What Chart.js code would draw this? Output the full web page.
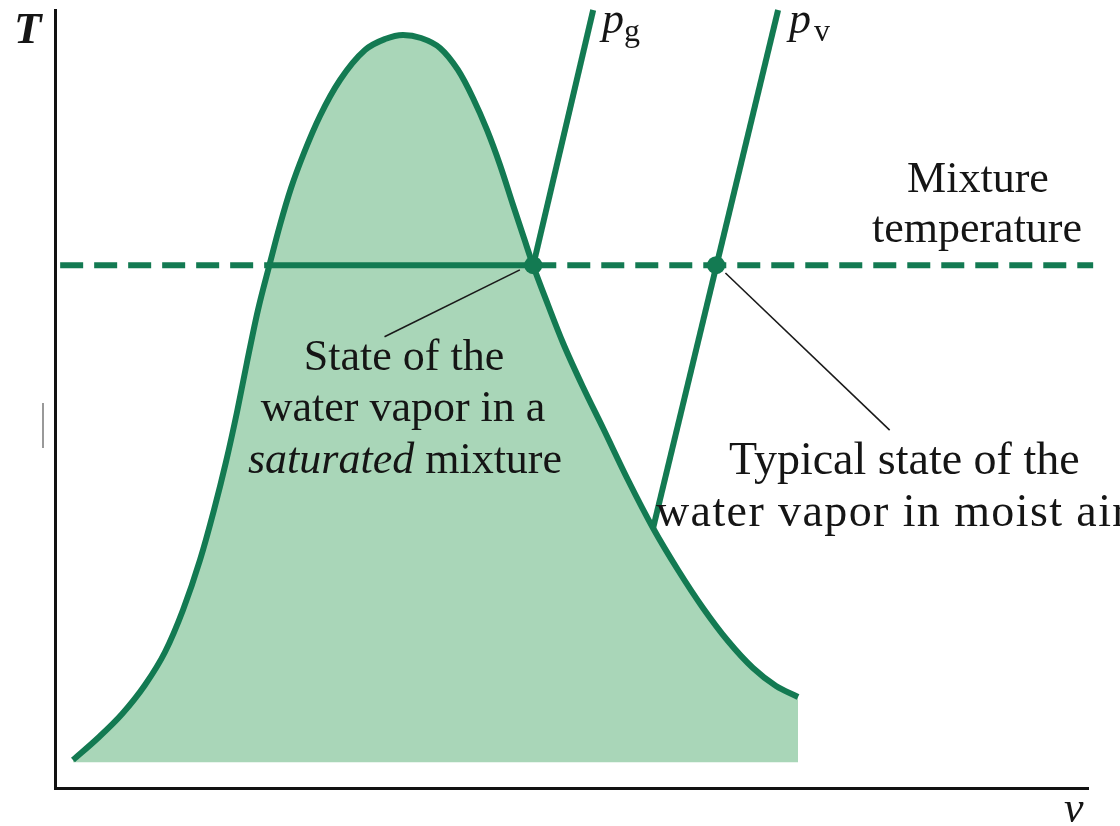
<!DOCTYPE html>
<html>
<head>
<meta charset="utf-8">
<script src="https://cdn.jsdelivr.net/npm/chart.js@4.4.1/dist/chart.umd.min.js"></script>
<style>
  body { margin: 0; background: #fff; }
  .wrap { width: 1120px; height: 826px; position: relative; }
</style>
</head>
<body>
<div class="wrap"><canvas id="chart"></canvas></div>
<script>
// saturation dome (v, T in axis units 0..100)
const domeV = [1.74, 4.16, 6.49, 8.71, 10.65, 12.39, 14.04, 15.39, 16.55, 17.62, 18.59, 19.65, 20.81, 21.78, 22.85, 24.10, 25.65, 27.59, 30.01, 31.95, 33.69, 35.43, 37.27, 39.01, 40.46, 41.82, 43.08, 44.34, 45.40, 46.27, 47.73, 49.18, 51.11, 53.05, 55.47, 57.89, 60.31, 62.73, 65.15, 67.57, 69.80, 71.93];
const domeT = [3.60, 6.43, 9.51, 13.24, 17.48, 22.88, 29.31, 35.73, 41.90, 48.33, 54.76, 61.44, 67.48, 72.37, 77.12, 81.62, 86.38, 91.00, 94.86, 96.27, 96.79, 96.40, 95.12, 92.29, 88.69, 84.58, 80.08, 74.94, 70.69, 67.22, 62.08, 57.20, 51.54, 46.27, 39.59, 33.42, 28.02, 23.14, 18.89, 15.42, 13.11, 11.70];
const domeBaseT = 3.3;

// mixture temperature line
const mixT = 67.2;
const dashLeftV = [0.5, 20.8];
const solidV = [20.8, 46.3];
const dashRightV = [46.3, 100.5];

// isobars p_g and p_v
const pgV = [46.3, 52.1];
const pgT = [67.2, 100];
const pvV = [57.9, 70.0];
const pvT = [33.4, 100];

// marked states
const stateV = [46.3, 64.0];
const stateT = [67.2, 67.2];

// leader lines to the notes
const lead1V = [45.0, 31.9];
const lead1T = [66.6, 58.0];
const lead2V = [64.9, 80.8];
const lead2T = [66.2, 46.0];

const green = '#137a52';
const fillGreen = '#a9d6b8';

const pts = (xs, ys) => xs.map((x, i) => ({ x: x, y: ys[i] }));
const flat = (xs, y) => xs.map(x => ({ x: x, y: y }));

const line = (data, color, width, extra) => Object.assign({
    data: data,
    showLine: true,
    borderColor: color,
    borderWidth: width,
    pointRadius: 0,
    fill: false,
    clip: false,
}, extra || {});

const labels = {
    id: 'labels',
    afterDraw(chart) {
        const ctx = chart.ctx;
        ctx.save();
        ctx.fillStyle = '#151515';
        ctx.textBaseline = 'alphabetic';

        const text = (s, x, y, font, align, spacing) => {
            ctx.font = font;
            ctx.textAlign = align || 'left';
            ctx.letterSpacing = spacing || '0px';
            ctx.fillText(s, x, y);
        };
        const reg = '44px "Liberation Serif"';
        const ita = 'italic 44px "Liberation Serif"';

        // axis letters
        text('T', 14, 43, 'italic bold 45px "Liberation Serif"');
        text('v', 1064, 822, ita);

        // isobar labels
        text('p', 602, 33, ita);
        text('g', 624, 41, '32px "Liberation Serif"');
        text('p', 789, 33, ita);
        text('v', 814, 41, '32px "Liberation Serif"');

        // notes
        text('Mixture', 978, 192, reg, 'center');
        text('temperature', 977, 242, reg, 'center');

        text('State of the', 404, 370, reg, 'center');
        text('water vapor in a', 403, 421, reg, 'center');
        ctx.font = ita;
        const w1 = ctx.measureText('saturated').width;
        ctx.font = reg;
        const w2 = ctx.measureText(' mixture').width;
        const x0 = 405 - (w1 + w2) / 2;
        text('saturated', x0, 473, ita);
        text(' mixture', x0 + w1, 473, reg);

        text('Typical state of the', 729, 474, '46px "Liberation Serif"');
        text('water vapor in moist air', 656, 526, '46px "Liberation Serif"', 'left', '1.4px');
        ctx.letterSpacing = '0px';

        // stray scan mark on the left
        ctx.strokeStyle = '#999';
        ctx.lineWidth = 2;
        ctx.beginPath();
        ctx.moveTo(43, 403);
        ctx.lineTo(43, 448);
        ctx.stroke();
        ctx.restore();
    }
};

new Chart(document.getElementById('chart'), {
    type: 'scatter',
    data: {
        datasets: [
            {
                data: pts(stateV, stateT),
                pointRadius: 9,
                pointBackgroundColor: green,
                pointBorderColor: green,
                pointBorderWidth: 0,
                showLine: false,
                clip: false,
            },
            line(pts(lead1V, lead1T), '#1a1a1a', 1.6),
            line(pts(lead2V, lead2T), '#1a1a1a', 1.6),
            line(pts(pgV, pgT), green, 6),
            line(pts(pvV, pvT), green, 6),
            line(flat(solidV, mixT), green, 6),
            line(flat(dashLeftV, mixT), green, 6, { borderDash: [23, 11] }),
            line(flat(dashRightV, mixT), green, 6, { borderDash: [23, 11] }),
            line(pts(domeV, domeT), green, 6, {
                fill: { value: domeBaseT },
                backgroundColor: fillGreen,
                cubicInterpolationMode: 'monotone',
            }),
        ]
    },
    options: {
        responsive: true,
        maintainAspectRatio: false,
        animation: false,
        events: [],
        layout: { padding: { left: 55, right: 32, top: 10, bottom: 38 } },
        plugins: {
            legend: { display: false },
            tooltip: { enabled: false },
        },
        scales: {
            x: {
                type: 'linear',
                min: 0,
                max: 100,
                grid: { display: false },
                ticks: { display: false },
                border: { display: true, color: '#111', width: 3 },
                afterFit(scale) { scale.height = 0; },
            },
            y: {
                type: 'linear',
                min: 0,
                max: 100,
                grid: { display: false },
                ticks: { display: false },
                border: { display: true, color: '#111', width: 3 },
                afterFit(scale) { scale.width = 0; },
            },
        },
    },
    plugins: [labels],
});
</script>
</body>
</html>
